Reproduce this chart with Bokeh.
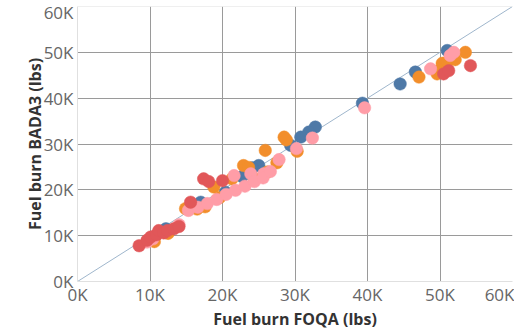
from bokeh.plotting import figure
from bokeh.models import FixedTicker, Range1d, Span
from bokeh.embed import file_html
from bokeh.resources import INLINE

# values in thousands of lbs
blue_x = [44.5, 46.6, 51.0, 39.3, 32.8, 31.9, 30.8, 29.4, 25.0, 24.1, 22.7, 20.4, 17.0, 12.2]
blue_y = [43.1, 45.7, 50.4, 38.9, 33.7, 32.6, 31.5, 29.7, 25.3, 24.8, 22.9, 19.5, 17.3, 11.5]

orange_x = [47.1, 49.6, 49.8, 50.3, 51.0, 52.1, 53.5, 28.5, 28.8, 30.3, 25.9, 27.5, 26.2,
            22.9, 23.6, 21.3, 18.8, 14.9, 10.6, 17.6, 19.6, 24.4, 16.5, 12.5]
orange_y = [44.6, 45.3, 46.0, 47.6, 47.9, 48.4, 50.0, 31.5, 30.9, 28.4, 28.6, 25.9, 23.9,
            25.3, 24.9, 22.4, 20.6, 15.9, 8.7, 16.3, 18.3, 22.5, 15.8, 10.5]

pink_x = [48.7, 51.4, 51.9, 39.6, 32.4, 30.2, 27.8, 25.7, 23.9, 21.6, 9.6, 15.3, 16.6, 17.9,
          19.2, 20.5, 21.8, 23.1, 24.4, 25.6, 26.6, 10.4, 14.0]
pink_y = [46.4, 49.3, 50.0, 37.9, 31.3, 29.0, 26.6, 23.5, 23.5, 23.1, 8.6, 15.5, 16.2, 17.0,
          17.9, 19.0, 19.9, 20.8, 21.8, 22.6, 24.0, 9.3, 12.4]

red_x = [54.2, 50.5, 51.2, 17.4, 18.1, 20.0, 15.6, 8.5, 9.6, 10.1, 10.9, 11.2, 11.9, 12.4, 13.3, 14.0]
red_y = [47.1, 45.3, 46.0, 22.4, 21.8, 22.0, 17.3, 7.8, 9.0, 9.7, 10.2, 11.1, 10.6, 11.1, 11.5, 12.0]

tick_values = [0, 10000, 20000, 30000, 40000, 50000, 60000]
tick_labels = ["0K", "10K", "20K", "30K", "40K", "50K", "60K"]
diag = [0, 60000]

series = [
    (blue_x, blue_y, "#4e79a7"),
    (orange_x, orange_y, "#f28e2b"),
    (pink_x, pink_y, "#ff9da7"),
    (red_x, red_y, "#e15759"),
]

p = figure(width=514, height=333, output_backend="svg", toolbar_location=None,
           x_range=Range1d(0, 60000), y_range=Range1d(0, 60000),
           min_border_left=77, min_border_right=2, min_border_top=6, min_border_bottom=52)
p.outline_line_color = None
p.background_fill_color = "white"
p.border_fill_color = "white"

for ax in (p.xaxis[0], p.yaxis[0]):
    ax.ticker = FixedTicker(ticks=tick_values)
    ax.major_label_overrides = {v: l for v, l in zip(tick_values, tick_labels)}
    ax.major_tick_line_color = None
    ax.minor_tick_line_color = None
    ax.axis_line_color = "#e0e0e0"
    ax.major_label_text_font = "Open Sans"
    ax.major_label_text_font_size = "17px"
    ax.major_label_text_color = "#666666"
    ax.axis_label_text_font = "Open Sans"
    ax.axis_label_text_font_size = "16px"
    ax.axis_label_text_font_style = "bold"
    ax.axis_label_text_color = "#333333"

p.xaxis.axis_label = "Fuel burn FOQA (lbs)"
p.yaxis.axis_label = "Fuel burn BADA3 (lbs)"
p.xaxis.major_label_standoff = -5
p.xaxis.axis_label_standoff = -1
p.yaxis.major_label_standoff = -2
p.yaxis.axis_label_standoff = -5

grid_ticks = FixedTicker(ticks=tick_values[1:-1])
p.xgrid.ticker = grid_ticks
p.ygrid.ticker = grid_ticks
p.xgrid.grid_line_color = "#9a9a9a"
p.ygrid.grid_line_color = "#9a9a9a"
p.xgrid.grid_line_width = 1
p.ygrid.grid_line_width = 1

p.add_layout(Span(location=tick_values[-1], dimension="width", line_color="#e0e0e0", line_width=1))

p.line(diag, diag, line_color="#9fb6cc", line_width=1)

for xs, ys, c in series:
    p.scatter([v * 1000 for v in xs], [v * 1000 for v in ys], size=12.5,
              fill_color=c, line_color=c, line_width=0.5)

open("out.html", "w").write(file_html(p, INLINE))
